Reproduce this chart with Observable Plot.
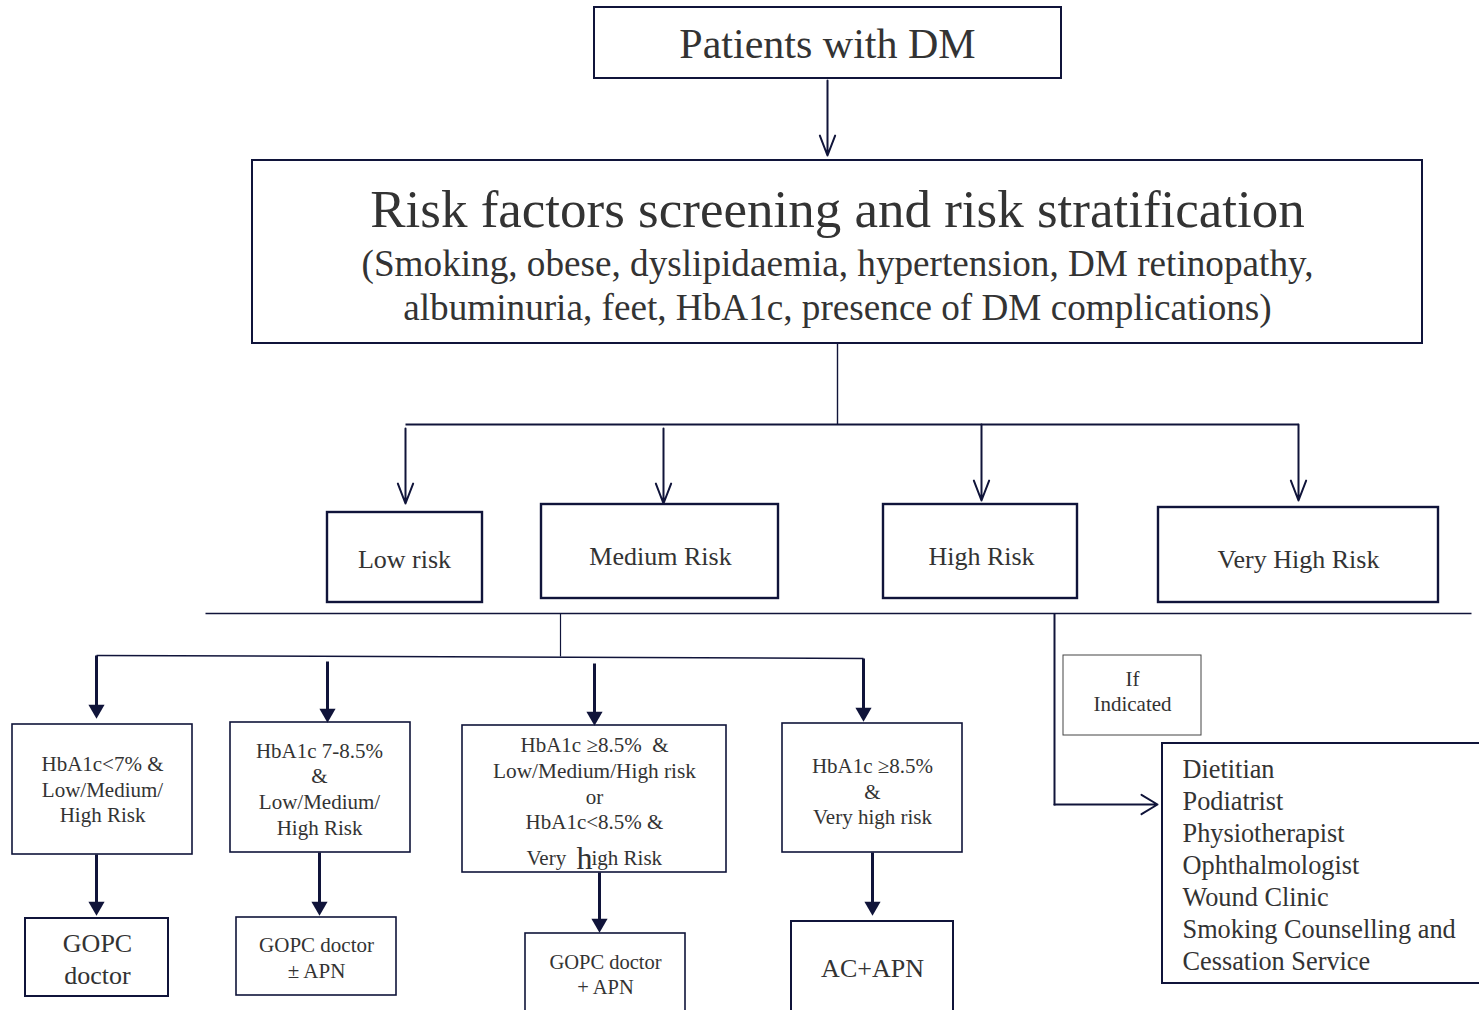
<!DOCTYPE html>
<html><head><meta charset="utf-8">
<script src="https://cdn.jsdelivr.net/npm/d3@7"></script>
<script src="https://cdn.jsdelivr.net/npm/@observablehq/plot@0.6"></script>
<style>html,body{margin:0;padding:0;background:#fff;overflow:hidden}</style>
</head><body><div id="chart"></div>
<script>
// ---------- content ----------
const boxIds = ["patients","screening","low","medium","high","veryHigh","a","b","c","d","gopc","gopcPm","gopcPlus","acApn","ifInd","allied"];
const labelText = [
  "Patients with DM",
  "Risk factors screening and risk stratification",
  "(Smoking, obese, dyslipidaemia, hypertension, DM retinopathy,",
  "albuminuria, feet, HbA1c, presence of DM complications)",
  "Low risk","Medium Risk","High Risk","Very High Risk",
  "HbA1c<7% &","Low/Medium/","High Risk",
  "HbA1c 7-8.5%","&","Low/Medium/","High Risk",
  "HbA1c \u22658.5%  &","Low/Medium/High risk","or","HbA1c<8.5% &",
  "HbA1c \u22658.5%","&","Very high risk",
  "GOPC","doctor",
  "GOPC doctor","\u00b1 APN",
  "GOPC doctor","+ APN",
  "AC+APN",
  "If","Indicated"
];
const veryHighParts = ["Very","h","igh Risk"];
const services = ["Dietitian","Podiatrist","Physiotherapist","Ophthalmologist","Wound Clinic","Smoking Counselling and","Cessation Service"];

// ---------- layout ----------
const boxX1 = [594,252,327,541,883,1158,12,230,462,782,25,236,525,791,1063,1162];
const boxX2 = [1061,1422,482,778,1077,1438,192,410,726,962,168,396,685,953,1201,1495];
const boxY1 = [7,160,512,504,504,507,724,722,725,723,918,917,933,921,655,743];
const boxY2 = [78,343,602,598,598,602,854,852,872,852,996,995,1030,1030,735,983];
const boxSW  = [2,2,2.4,2.4,2.4,2.4,1.6,1.6,1.6,1.6,2,1.6,1.6,2,1,2];

const labelX = [827,837,837,837,404,660,981,1298,102,102,102,319,319,319,319,594,594,594,594,872,872,872,97,97,316,316,605,605,872,1132,1132];
const labelY = [44,210,264,308,559,556,556,559,764,790,815,751,776,802,828,745,771,797,822,766,792,817,943,975,945,971,962,987,968,679,704];
const labelS = [42,53,37.2,37.2,26,26,26,26,21,21,21,21,21,21,21,21,21.3,21,21,21,21,21,26,26,21,21,20.5,20.5,26,21,21];
const vhX = [526,576,591], vhS = [21,32,21], vhY = 858;
const servX = 1182, servY0 = 769, servDY = 32, servS = 26.3;

const connX1 = [837,405,205,560,96,1054], connY1 = [343,424,613,613,655,613];
const connX2 = [837,1298,1471,560,863,1054], connY2 = [424,424,613,656,658,805];
const connSW = [1.4,2,1.5,1.2,1.5,2];

const openX1 = [827,405,663,981,1298], openY1 = [80,428,428,424,424];
const openX2 = [827,405,663,981,1298], openY2 = [155,503,503,500,500];
const sideArrow = {x1:1054, y1:804, x2:1157, y2:804};

const fillX = [96,327,594,863,96,319,599,872];
const fillY1 = [655,661,663,658,854,852,872,852];
const fillY2 = [718,722,725,721,915,915,932,915];

// ---------- build ----------
const INK = "#10143a", TEXT = "#333", FONT = "Liberation Serif, Times New Roman, serif";
const boxes = boxIds.map((id,i)=>({id,x1:boxX1[i],x2:boxX2[i],y1:boxY1[i],y2:boxY2[i],sw:boxSW[i]}));
const labels = labelText.map((t,i)=>({t,x:labelX[i],y:labelY[i],s:labelS[i]}));
const vh = veryHighParts.map((t,i)=>({t,x:vhX[i],y:vhY,s:vhS[i]}));
const serv = services.map((t,i)=>({t,x:servX,y:servY0+i*servDY}));
const conns = connX1.map((x,i)=>({x1:x,y1:connY1[i],x2:connX2[i],y2:connY2[i],sw:connSW[i]}));
const opens = openX1.map((x,i)=>({x1:x,y1:openY1[i],x2:openX2[i],y2:openY2[i]}));
const fills = fillX.map((x,i)=>({x,y1:fillY1[i],y2:fillY2[i]}));

const chart = Plot.plot({
  width: 1479, height: 1010, margin: 0,
  x: {domain:[0,1479], axis:null},
  y: {domain:[0,1010], range:[0,1010], axis:null},
  style: {background:"#fff"},
  marks: [
    Plot.link(conns, {x1:"x1",y1:"y1",x2:"x2",y2:"y2",stroke:INK,strokeWidth:d=>d.sw}),
    ...boxes.map(b=>Plot.rect([b], {x1:"x1",x2:"x2",y1:"y1",y2:"y2",fill:"white",stroke: b.id==="ifInd"?"#444":INK,strokeWidth:b.sw})),
    Plot.arrow(opens, {x1:"x1",y1:"y1",x2:"x2",y2:"y2",stroke:INK,strokeWidth:2,headAngle:42,headLength:16}),
    Plot.arrow([sideArrow], {x1:"x1",y1:"y1",x2:"x2",y2:"y2",stroke:INK,strokeWidth:2,headAngle:62,headLength:14}),
    Plot.link(fills, {x1:"x",x2:"x",y1:"y1",y2:d=>d.y2-8,stroke:INK,strokeWidth:3}),
    Plot.dot(fills, {x:"x",y:d=>d.y2-9.2,symbol:"triangle",r:6,rotate:180,fill:INK,stroke:"none"}),
    Plot.text(labels, {x:"x",y:"y",text:"t",fontSize:d=>d.s,fontFamily:FONT,fill:TEXT}),
    Plot.text(vh, {x:"x",y:"y",text:"t",fontSize:d=>d.s,fontFamily:FONT,fill:TEXT,textAnchor:"start"}),
    Plot.text(serv, {x:"x",y:"y",text:"t",fontSize:servS,fontFamily:FONT,fill:TEXT,textAnchor:"start"})
  ]
});
document.getElementById("chart").appendChild(chart);
</script>
</body></html>
